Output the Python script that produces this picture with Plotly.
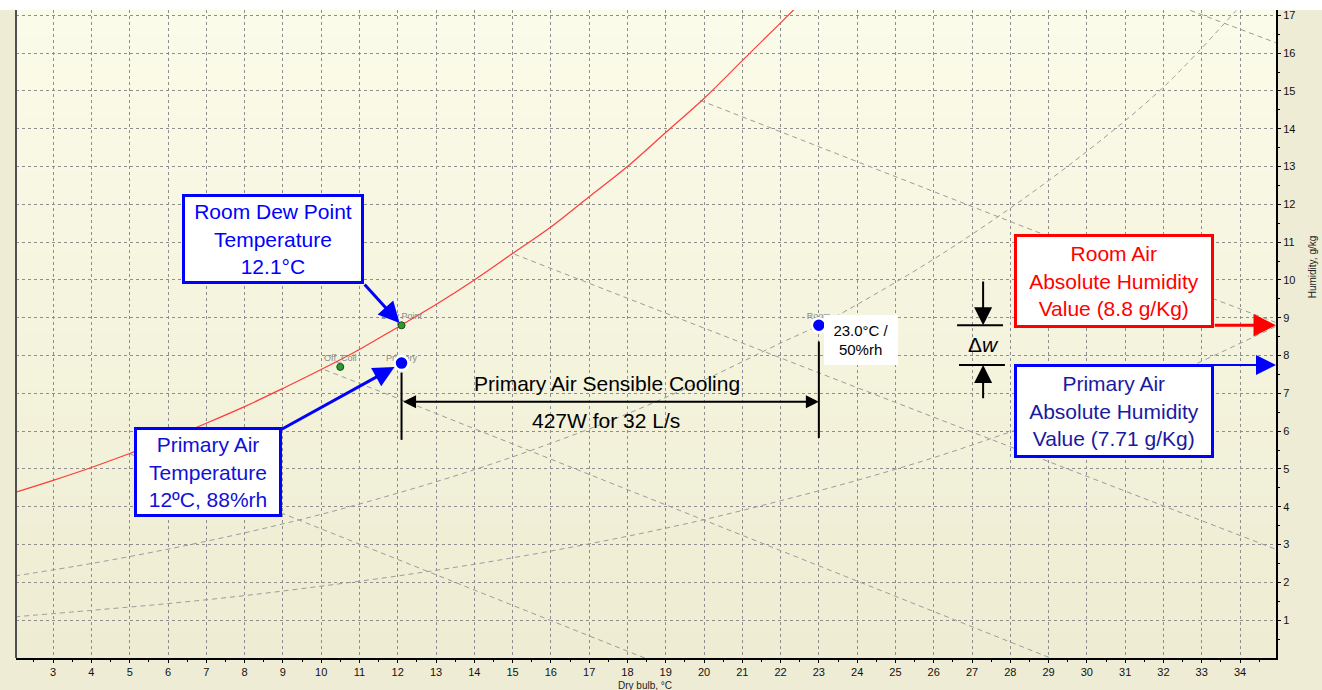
import plotly.graph_objects as go

# ---------------- data ----------------
# saturation (100 % rh) curve: dry bulb °C -> humidity g/kg
sat_T = [2, 3, 4, 5, 6, 7, 8, 9, 10, 11, 12, 13, 14, 15, 16, 17, 18, 19, 20, 21, 22, 22.4]
sat_w = [4.38, 4.70, 5.04, 5.41, 5.79, 6.21, 6.65, 7.13, 7.63, 8.16, 8.75, 9.35, 10.0,
         10.7, 11.4, 12.2, 13.0, 13.9, 14.8, 15.8, 16.8, 17.2]

# 50 % rh curve
rh50_T = [2, 4, 6, 8, 10, 12, 14, 16, 18, 20, 22, 23, 24, 26, 28, 30, 32, 33.9]
rh50_w = [2.17, 2.50, 2.88, 3.31, 3.80, 4.36, 4.98, 5.68, 6.46, 7.35, 8.33, 8.80, 9.35,
          10.55, 11.90, 13.40, 15.10, 17.13]

# 25 % rh curve
rh25_T = [2, 4, 6, 8, 10, 12, 14, 16, 18, 20, 22, 24, 26, 28, 30, 32, 33, 35]
rh25_w = [1.09, 1.26, 1.44, 1.65, 1.90, 2.17, 2.48, 2.83, 3.22, 3.66, 4.16, 4.70, 5.30,
          5.98, 6.70, 7.40, 7.85, 8.80]

# constant wet-bulb / enthalpy lines
wb_a_T = [5.0, 9.0, 18.45]
wb_a_w = [5.40, 3.82, 0.0]
wb_b_T = [10.1, 12.5, 29.05]
wb_b_w = [7.62, 6.67, 0.0]
wb_c_T = [15.05, 22.93, 35.0]
wb_c_w = [10.68, 7.57, 2.85]
wb_d_T = [19.9, 28.8, 35.0]
wb_d_w = [14.75, 11.23, 8.85]
wb_e_T = [32.7, 35.0]
wb_e_w = [17.13, 16.25]

# state points
main_names = ["Room", "Primary"]
main_T = [23.0, 12.1]
main_w = [8.8, 7.8]
aux_names = ["Dew Point", "Off_Coil"]
aux_T = [12.1, 10.5]
aux_w = [8.8, 7.7]

room_w_value = 8.8      # g/kg
primary_w_value = 7.75  # g/kg (arrow level)

x_ticks = list(range(3, 35))
y_ticks = list(range(1, 18))

# ---------------- figure ----------------
X_RANGE = [2.03, 34.94]
Y_RANGE = [0, 17.14]

fig = go.Figure()

grey_curve = dict(color="#9C9C9C", width=1, dash="5px,4px")
for tx, wy in [(rh25_T, rh25_w), (rh50_T, rh50_w)]:
    fig.add_trace(go.Scatter(x=tx, y=wy, mode="lines", line=dict(shape="spline", **grey_curve),
                             hoverinfo="skip", showlegend=False))
for tx, wy in [(wb_a_T, wb_a_w), (wb_b_T, wb_b_w), (wb_c_T, wb_c_w), (wb_d_T, wb_d_w), (wb_e_T, wb_e_w)]:
    fig.add_trace(go.Scatter(x=tx, y=wy, mode="lines", line=grey_curve,
                             hoverinfo="skip", showlegend=False))

fig.add_trace(go.Scatter(x=sat_T, y=sat_w, mode="lines",
                         line=dict(color="#FF3B3B", width=1.2, shape="spline"),
                         hoverinfo="skip", showlegend=False))

# small grey point labels (drawn under the markers), a little above each point
label_lift = [0.22, 0.21, 0.22, 0.11]
lbl_T = aux_T + main_T
lbl_w = [w + d for w, d in zip(aux_w + main_w, label_lift)]
fig.add_trace(go.Scatter(x=lbl_T, y=lbl_w, mode="text",
                         text=aux_names + main_names, textposition="middle center",
                         textfont=dict(family="Liberation Sans, Arial", size=9, color="#8A8A8A"),
                         hoverinfo="skip", showlegend=False))

fig.add_trace(go.Scatter(x=aux_T, y=aux_w, mode="markers",
                         marker=dict(size=7, color="#2E9A2E", line=dict(color="#184D18", width=1)),
                         hoverinfo="skip", showlegend=False))
fig.add_trace(go.Scatter(x=main_T, y=main_w, mode="markers",
                         marker=dict(size=14, color="#0000FF", line=dict(color="white", width=2.5)),
                         hoverinfo="skip", showlegend=False))

shapes = []
# background gradient (below grid)
n_band = 24
top_c = (251, 251, 233)
bot_c = (238, 236, 210)
for i in range(n_band):
    f = i / (n_band - 1)
    c = tuple(int(round(bot_c[k] + (top_c[k] - bot_c[k]) * f)) for k in range(3))
    shapes.append(dict(type="rect", xref="paper", yref="paper", x0=0, x1=1,
                       y0=i / n_band, y1=(i + 1) / n_band + 0.001, layer="below",
                       line=dict(width=0), fillcolor="rgb(%d,%d,%d)" % c))
# white strip at the very top
shapes.append(dict(type="rect", xref="paper", yref="paper", x0=-0.02, x1=1.04, y0=1.0, y1=1.02,
                   layer="below", line=dict(width=0), fillcolor="white"))
# left frame line
shapes.append(dict(type="line", xref="paper", yref="paper", x0=0, x1=0, y0=0, y1=1,
                   line=dict(color="#505050", width=2)))

# sensible cooling bars
shapes.append(dict(type="line", xref="x", yref="y", x0=main_T[1], x1=main_T[1], y0=7.55, y1=5.77,
                   line=dict(color="black", width=2)))
shapes.append(dict(type="line", xref="x", yref="y", x0=main_T[0], x1=main_T[0], y0=8.37, y1=5.82,
                   line=dict(color="black", width=2)))
# delta-w bars
shapes.append(dict(type="line", xref="x", yref="y", x0=26.61, x1=27.81, y0=room_w_value, y1=room_w_value,
                   line=dict(color="black", width=2)))
shapes.append(dict(type="line", xref="x", yref="y", x0=26.66, x1=27.86, y0=primary_w_value,
                   y1=primary_w_value, line=dict(color="black", width=2)))

FONT = "Liberation Sans, Arial"
annotations = []


def box(x, y, text, color, border, w, h, size=21):
    return dict(x=x, y=y, xref="x", yref="y", text=text, showarrow=False,
                font=dict(family=FONT, size=size, color=color), bgcolor="white",
                bordercolor=border, borderwidth=3 if border != "white" else 0, borderpad=2,
                width=w, height=h, align="center", xanchor="center", yanchor="middle")


def arrow(x, y, ax, ay, color, width, size, standoff=0, side="end"):
    return dict(x=x, y=y, ax=ax, ay=ay, xref="x", yref="y", axref="x", ayref="y", text="",
                showarrow=True, arrowhead=2, arrowsize=size, arrowwidth=width,
                arrowcolor=color, standoff=standoff, arrowside=side)


# text boxes (drawn first so that arrows sit on top of their edges)
annotations.append(box(8.73, 11.08, "Room Dew Point<br>Temperature<br>12.1°C", "#0000FF", "#0000FF", 172, 80))
annotations.append(box(7.04, 4.93, "Primary Air<br>Temperature<br>12ºC, 88%rh", "#1010D8", "#0000FF", 138, 80))
annotations.append(box(30.71, 9.96, "Room Air<br>Absolute Humidity<br>Value (8.8 g/Kg)", "#FF0000", "#FF0000", 190, 84))
annotations.append(box(30.71, 6.53, "Primary Air<br>Absolute Humidity<br>Value (7.71 g/Kg)", "#1A1AA0", "#0000FF", 190, 84))
annotations.append(box(24.1, 8.42, "23.0°C /<br>50%rh", "black", "white", 70, 46, size=15))

# arrows
annotations.append(arrow(aux_T[0], aux_w[0], 11.1, 9.92, "#0000FF", 3, 1.4, standoff=3))
annotations.append(arrow(main_T[1], main_w[1], 8.93, 6.03, "#0000FF", 3, 1.4, standoff=8))
annotations.append(arrow(main_T[0], 6.78, main_T[1], 6.78, "black", 2, 1.3, side="end+start"))
annotations.append(arrow(X_RANGE[1], room_w_value, 33.3, room_w_value, "#FF0000", 3, 1.5))
annotations.append(arrow(X_RANGE[1], primary_w_value, 32.69, primary_w_value, "#0000FF", 2, 2.0))
annotations.append(arrow(27.29, room_w_value, 27.29, 10.0, "black", 2, 1.8))
annotations.append(arrow(27.29, primary_w_value, 27.29, 6.83, "black", 2, 1.8))

annotations.append(dict(x=17.46, y=7.27, xref="x", yref="y", text="Primary Air Sensible Cooling",
                        showarrow=False, font=dict(family=FONT, size=21, color="black")))
annotations.append(dict(x=17.43, y=6.27, xref="x", yref="y", text="427W for 32 L/s",
                        showarrow=False, font=dict(family=FONT, size=21, color="black")))
annotations.append(dict(x=27.29, y=8.28, xref="x", yref="y", text="Δ<i>w</i>",
                        showarrow=False, font=dict(family=FONT, size=21, color="black")))

# axis titles
annotations.append(dict(x=0.4992, y=-0.0417, xref="paper", yref="paper", text="Dry bulb, °C",
                        xanchor="center", yanchor="middle",
                        showarrow=False, font=dict(family=FONT, size=10, color="#222222")))
annotations.append(dict(x=1.0286, y=0.603, xref="paper", yref="paper", text="Humidity, g/kg",
                        xanchor="center", yanchor="middle",
                        textangle=-90, showarrow=False, font=dict(family=FONT, size=10, color="#222222")))

axis_common = dict(showgrid=True, gridcolor="#8E8E8E", griddash="3px,3px", gridwidth=1,
                   zeroline=False, showline=True, linecolor="black", linewidth=2,
                   ticks="outside", ticklen=3, tickcolor="black",
                   tickfont=dict(family=FONT, size=11, color="#111111"))

fig.update_layout(
    width=1322, height=690,
    margin=dict(l=16, r=46, t=10, b=32),
    paper_bgcolor="#EEECD4",
    plot_bgcolor="rgba(0,0,0,0)",
    showlegend=False,
    xaxis=dict(range=X_RANGE, tickvals=x_ticks, ticklabelstandoff=0, **axis_common,
               minor=dict(tickvals=[v + 0.5 for v in range(2, 35)], ticks="outside", ticklen=2,
                          tickcolor="black", showgrid=False)),
    yaxis=dict(range=Y_RANGE, tickvals=y_ticks, side="right", **axis_common,
               minor=dict(tickvals=[v + 0.5 for v in range(0, 17)], ticks="outside", ticklen=2,
                          tickcolor="black", showgrid=False)),
    shapes=shapes,
    annotations=annotations,
)

fig.write_html("out.html")
